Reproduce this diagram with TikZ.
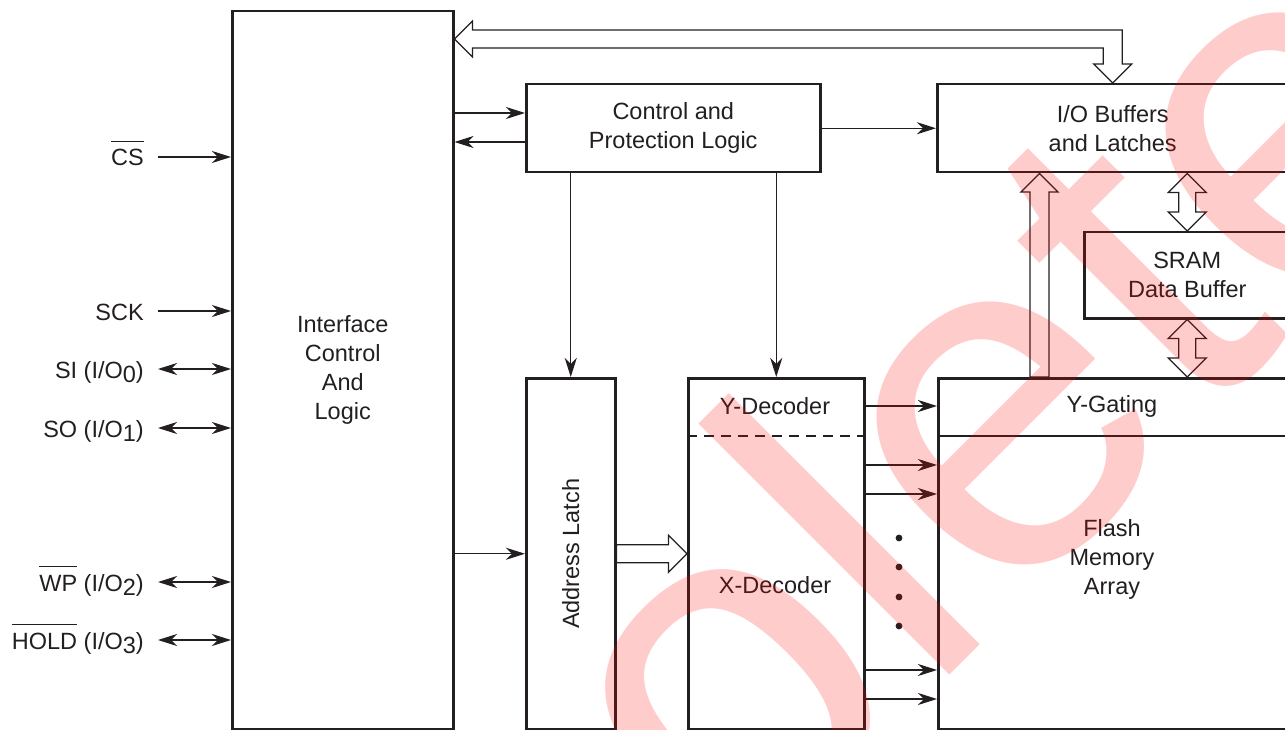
\documentclass[tikz,border=0pt]{standalone}
\usepackage{fontspec}
\setmainfont{Liberation Sans}
\usepackage{tikz}
\usetikzlibrary{arrows.meta,calc}
\definecolor{ink}{HTML}{231F20}
\newcommand{\nsig}[1]{\setbox0\hbox{#1}\rlap{\rule[23.6pt]{\wd0}{1.4pt}}\box0\relax}
\newcommand{\iosub}[1]{\raisebox{-4.5pt}{#1}}

\begin{document}
\begin{tikzpicture}[
    x=1pt, y=-1pt,
    font=\fontsize{23.5}{29}\selectfont,
    block/.style={rectangle, draw=ink, line width=2.5pt, inner sep=0pt, align=center, anchor=north west, text=ink},
    txt/.style={inner sep=0pt, align=center, text=ink},
    sig/.style={inner sep=0pt, anchor=east, text height=18pt, text depth=0pt, text=ink},
    arrow/.style={-{Stealth[length=19pt,width=12pt,inset=6pt]}, line width=1.2pt, draw=ink},
    darrow/.style={{Stealth[length=19pt,width=12pt,inset=6pt]}-{Stealth[length=19pt,width=12pt,inset=6pt]}, line width=1.2pt, draw=ink},
    hollow/.style={draw=ink, line width=1.3pt, line join=miter},
    divider/.style={draw=ink, line width=2.5pt}
]
\useasboundingbox (0,0) rectangle (1285,730);
\clip (0,0) rectangle (1285,730);

% Main blocks
\node[block, minimum width=221pt, minimum height=718pt] (ifc) at (231,10) {Interface\\Control\\And\\Logic};
\node[block, minimum width=294pt, minimum height=88pt] (ctrl) at (525,83) {Control and\\Protection Logic};
\node[block, minimum width=351pt, minimum height=88pt] (iobuf) at (936,83) {I/O Buffers\\and Latches};
\node[block, minimum width=206pt, minimum height=86pt] (sram) at (1083,231) {SRAM\\Data Buffer};
\node[block, minimum width=89pt, minimum height=351pt] (alatch) at (525,377) {};
\node[block, minimum width=176pt, minimum height=351pt] (dec) at (687,377) {};
\node[block, minimum width=351pt, minimum height=351pt] (flash) at (937,377) {};

% Texts inside the lower blocks
\node[txt, rotate=90] (alatchtxt) at (alatch.center) {Address Latch};
\node[txt] (ydec) at (775,406) {Y-Decoder};
\node[txt] (xdec) at (775,585) {X-Decoder};
\node[txt] (ygate) at (1112,406) {Y-Gating};
\node[txt] (flashtxt) at (1112,559) {Flash\\Memory\\Array};

\coordinate (ysplit) at (0,436);
\draw[divider, dash pattern=on 10pt off 7pt] (dec.west |- ysplit) -- (dec.east |- ysplit);
\draw[divider] (flash.west |- ysplit) -- (flash.east |- ysplit);

% Pins
\node[sig] (cs) at (144,157) {\nsig{CS}};
\node[sig] (sck) at (144,311) {SCK};
\node[sig] (si) at (144,369) {SI (I/O\iosub{0})};
\node[sig] (so) at (144,428) {SO (I/O\iosub{1})};
\node[sig] (wp) at (144,582) {\nsig{WP} (I/O\iosub{2})};
\node[sig] (hold) at (144,640) {\nsig{HOLD} (I/O\iosub{3})};

\draw[arrow] ([xshift=14pt]cs.east) -- (cs.east -| ifc.west);
\draw[arrow] ([xshift=14pt]sck.east) -- (sck.east -| ifc.west);
\foreach \s in {si,so,wp,hold}
    \draw[darrow] ([xshift=14pt]\s.east) -- (\s.east -| ifc.west);

% Control paths
\coordinate (yto) at (0,113);
\coordinate (yfrom) at (0,142);
\draw[arrow] (ifc.east |- yto) -- (ctrl.west |- yto);
\draw[arrow] (ctrl.west |- yfrom) -- (ifc.east |- yfrom);
\draw[arrow] (ctrl.east) -- (iobuf.west);
\draw[arrow] (alatch.north |- ctrl.south) -- (alatch.north);
\draw[arrow] (dec.north |- ctrl.south) -- (dec.north);
\draw[arrow] (ifc.east |- alatch.west) -- (alatch.west);

% Decoder outputs
\draw[arrow] (dec.east |- ydec) -- (flash.west |- ydec);
\foreach \y in {465,494,670,699} {
    \coordinate (xrow) at (0,\y);
    \draw[arrow] (dec.east |- xrow) -- (flash.west |- xrow);
}
\foreach \y in {538,567,597,626}
    \fill[ink] (899,\y) circle (3.4pt);

% Wide data paths
\coordinate (bus) at ($(ifc.north east)+(0,29)$);
\draw[hollow] (bus) -- ++(18,-18) -- ++(0,9) -| ($(iobuf.north)+(9.5,-19)$) -- ++(9.5,0) -- (iobuf.north) -- ++(-19,-19) -- ++(9.5,0) |- ($(bus)+(18,9)$) -- ++(0,9) -- cycle;

\draw[hollow] (dec.west) -- ++(-18.5,-18.5) -- ++(0,9.5) -- ($(alatch.east)+(0,-9)$) -- ($(alatch.east)+(0,9)$) -- ($(dec.west)+(-18.5,9)$) -- ++(0,9.5) -- cycle;

\coordinate (uptip) at ($(iobuf.south west)+(103.5,0)$);
\draw[hollow] (uptip) -- ++(18.5,18.5) -- ++(-9,0) -- ($(uptip |- flash.north)+(9.5,0)$) -- ++(-19,0) -- ($(uptip)+(-9.5,18.5)$) -- ++(-9,0) -- cycle;

\foreach \a/\b in {iobuf/sram, sram/flash}
    \draw[hollow] (sram.north |- \a.south) -- ++(19,19) -- ++(-10.5,0) -- ($(sram.north |- \b.north)+(8.5,-19)$) -- ++(10.5,0) -- (sram.north |- \b.north) -- ++(-19,-19) -- ++(10.5,0) -- ($(sram.north |- \a.south)+(-8.5,19)$) -- ++(-10.5,0) -- cycle;

% Watermark
\node[inner sep=0pt, anchor=base west, rotate=45, text=red, opacity=0.2, font=\fontsize{490}{490}\selectfont] (wmark) at (175,1450) {obsolete};

\end{tikzpicture}
\end{document}
